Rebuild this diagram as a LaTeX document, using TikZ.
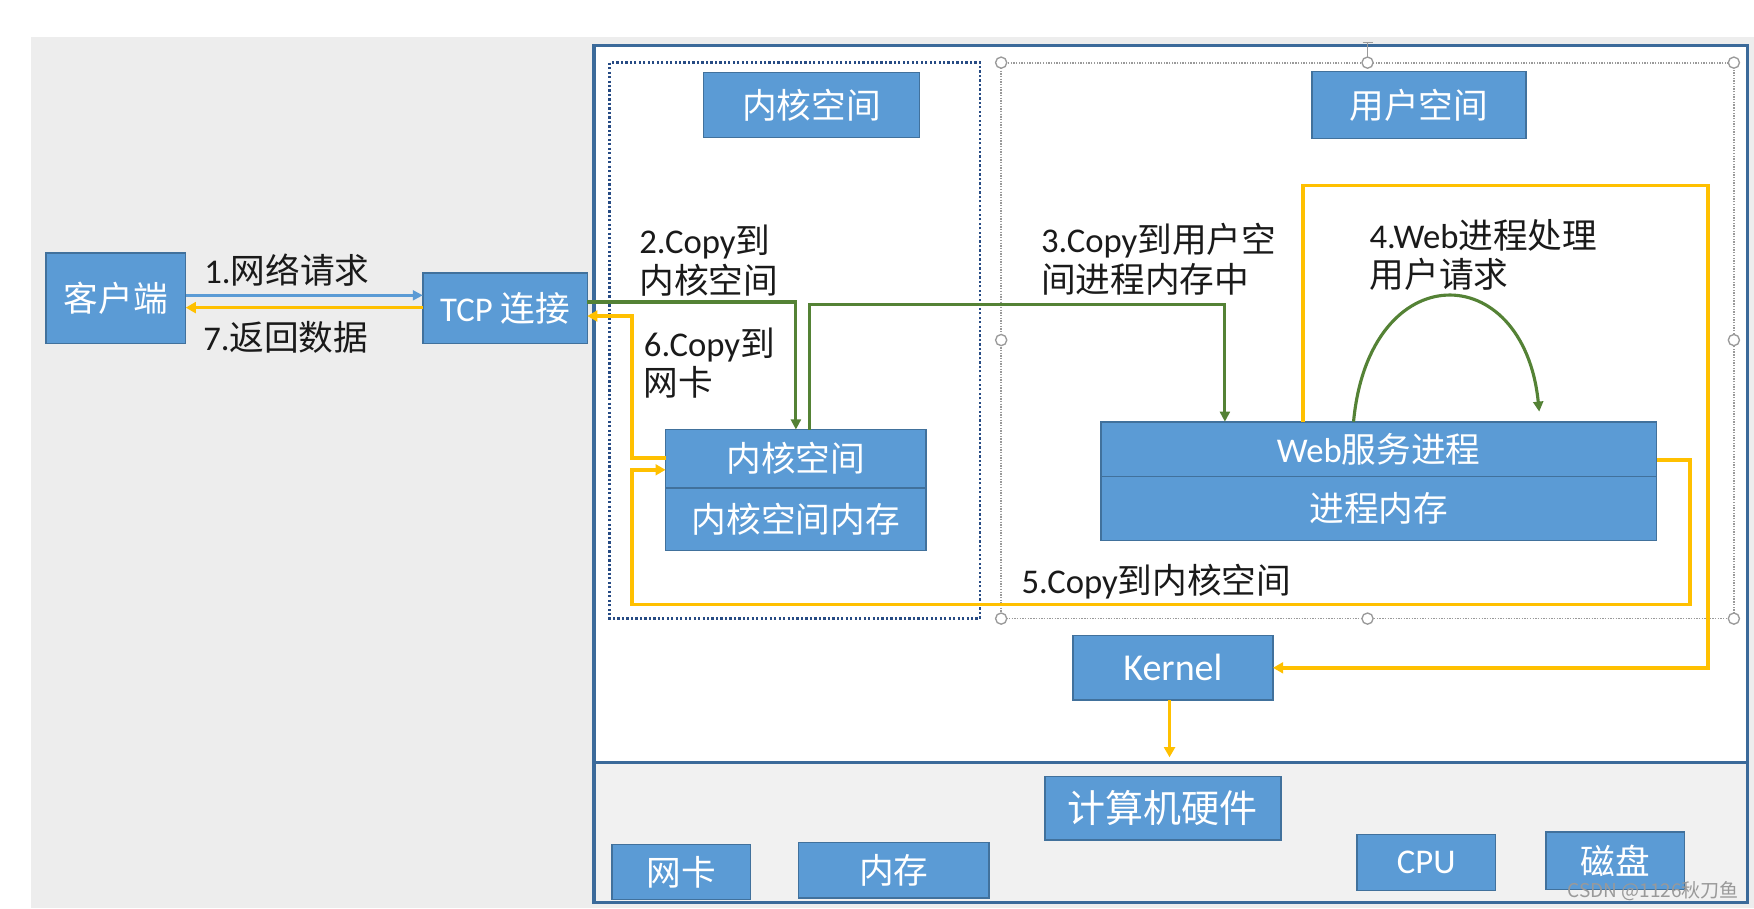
\documentclass[tikz,border=0pt]{standalone}
\usepackage{fontspec}
\setmainfont{Carlito}
\newfontfamily\cjk{Noto Sans CJK SC}
\usetikzlibrary{arrows.meta}
\definecolor{boxfill}{HTML}{5B9BD5}
\definecolor{boxline}{HTML}{41719C}
\definecolor{framec}{HTML}{3B6A9A}
\definecolor{ylw}{HTML}{FFC000}
\definecolor{grn}{HTML}{548235}
\definecolor{arrblue}{HTML}{5B9BD5}
\definecolor{bggray}{HTML}{EDEDED}
\definecolor{hwgray}{HTML}{F1F1F1}
\definecolor{navyc}{HTML}{274B84}
\definecolor{handlec}{HTML}{9A9A9A}
\definecolor{lblc}{HTML}{1A1A1A}
\newcommand\fsz{\fontsize{15.5}{17.5}\selectfont}
\newcommand\bxn[7][]{\node[bbox,#7, minimum width={(#4-#2)*0.5pt}, minimum height={(#5-#3)*0.5pt}] (#1) at ({(#2+#4)/2},{(#3+#5)/2}) {#6};}
\tikzset{
  bbox/.style={draw=boxline, line width=0.7pt, fill=boxfill, text=white, inner sep=0pt, outer sep=0pt, font=\fsz},
  lbl/.style={anchor=west, inner sep=0pt, outer sep=0pt, align=left, font=\fsz, text=lblc},
  yarrow/.style={draw=ylw, line width=1.6pt, line join=miter, -{Triangle[length=4.5pt,width=4.8pt]}},
  garrow/.style={draw=grn, line width=1.4pt, -{Triangle[length=4.5pt,width=4.4pt]}},
  barrow/.style={draw=arrblue, line width=1.4pt, -{Triangle[length=4.5pt,width=4.4pt]}},
  handle/.style={draw=handlec, fill=white, line width=0.6pt},
}
\begin{document}
\begin{tikzpicture}[x=0.5pt,y=-0.5pt]
\useasboundingbox (0,0) rectangle (1568,812);
\fill[white] (0,0) rectangle (1568,812);
% gray background
\fill[bggray] (28,33) rectangle (1568,812);
% main frame
\fill[white] (531,41) rectangle (1562,682);
\fill[hwgray] (531,682) rectangle (1562,807);
\draw[framec, line width=1.4pt] (531,41) rectangle (1562,807);
\draw[framec, line width=1.4pt] (531,682) -- (1562,682);
% kernel dotted region
\draw[navyc, line width=1.1pt, dash pattern=on 1pt off 1pt] (545,56) rectangle (876,553);
% user dotted region with selection handles
\draw[handlec, line width=0.8pt, dash pattern=on 0.6pt off 0.6pt] (895,56) rectangle (1550,553);
\draw[handlec, line width=0.6pt] (1222.5,38) -- (1222.5,52);
\draw[handlec, line width=0.6pt] (1218,38) -- (1227,38);
\foreach \hx/\hy in {895/56,1222.5/56,1550/56,895/304,1550/304,895/553,1222.5/553,1550/553}
  \draw[handle] (\hx,\hy) circle (2.5pt);

% boxes
\bxn[client]{41}{226}{166}{307}{{\cjk 客户端}}{}
\bxn[tcp]{378}{244}{525}{307}{TCP {\cjk 连接}}{}
\bxn[ktitle]{629}{65}{822}{123}{{\cjk 内核空间}}{}
\bxn[utitle]{1173}{64}{1364}{124}{{\cjk 用户空间}}{}
\bxn[kspace]{595}{384}{828}{436}{{\cjk 内核空间}}{}
\bxn[kmem]{595}{436}{828}{492}{{\cjk 内核空间内存}}{}
\bxn[web]{984}{377}{1481}{426}{Web{\cjk 服务进程}}{}
\bxn[pmem]{984}{426}{1481}{483}{{\cjk 进程内存}}{}
\bxn[kernel]{959}{568}{1138}{626}{Kernel}{font=\fontsize{17}{19}\selectfont}
\bxn[hw]{934}{694}{1145}{751}{{\cjk 计算机硬件}}{font=\fontsize{17}{19}\selectfont}
\bxn[nic]{547}{755}{671}{804}{{\cjk 网卡}}{}
\bxn[mem]{714}{753}{884}{803}{{\cjk 内存}}{}
\bxn[cpu]{1213}{746}{1337}{796}{CPU}{}
\bxn[disk]{1382}{744}{1506}{795}{{\cjk 磁盘}}{}

% labels
\node[lbl] (l1) at (182.7,241.5) {1.{\cjk 网络请求}};
\node[lbl] (l7) at (181.7,302) {7.{\cjk 返回数据}};
\node[lbl] (l2) at (571.6,233) {2.Copy{\cjk 到}\\{\cjk 内核空间}};
\node[lbl] (l6) at (575.7,324.5) {6.Copy{\cjk 到}\\{\cjk 网卡}};
\node[lbl] (l3) at (930.7,231.7) {3.Copy{\cjk 到用户空}\\{\cjk 间进程内存中}};
\node[lbl] (l4) at (1224.4,228) {4.Web{\cjk 进程处理}\\{\cjk 用户请求}};
\node[lbl] (l5) at (913.3,520) {5.Copy{\cjk 到内核空间}};

% connectors
\draw[barrow] (client.east |- 0,264) -- (tcp.west |- 0,264);
\draw[yarrow] (tcp.west |- 0,275) -- (client.east |- 0,275);
\draw[garrow] (tcp.east |- 0,270) -| (kspace.north);
\draw[garrow] (kspace.north -| 723.5,0) -- (723.5,272) -| (web.north -| 1095,0);
\draw[garrow] (web.north -| 1210,0) .. controls (1224,228) and (1362,230) .. (1376,368);
\draw[yarrow] (web.east |- 0,411) -- (1510.6,411) -- (1510.6,540.5) -- (565,540.5) -- (565,420) -- (kspace.west |- 0,420);
\draw[yarrow] (kspace.west |- 0,409.4) -- (565,409.4) -- (565,282.5) -- (tcp.east |- 0,282.5);
\draw[yarrow] (web.north -| 1165,0) -- (1165,166) -- (1527,166) -- (1527,597) -- (kernel.east |- 0,597);
\draw[yarrow] (kernel.south -| 1045.5,0) -- (1045.5,677);

% watermark
\node[text=gray!80, font={\cjk\fontsize{8.5}{9}\selectfont}, inner sep=0pt] (wm) at (1478,797) {CSDN @1126秋刀鱼};
\end{tikzpicture}
\end{document}
